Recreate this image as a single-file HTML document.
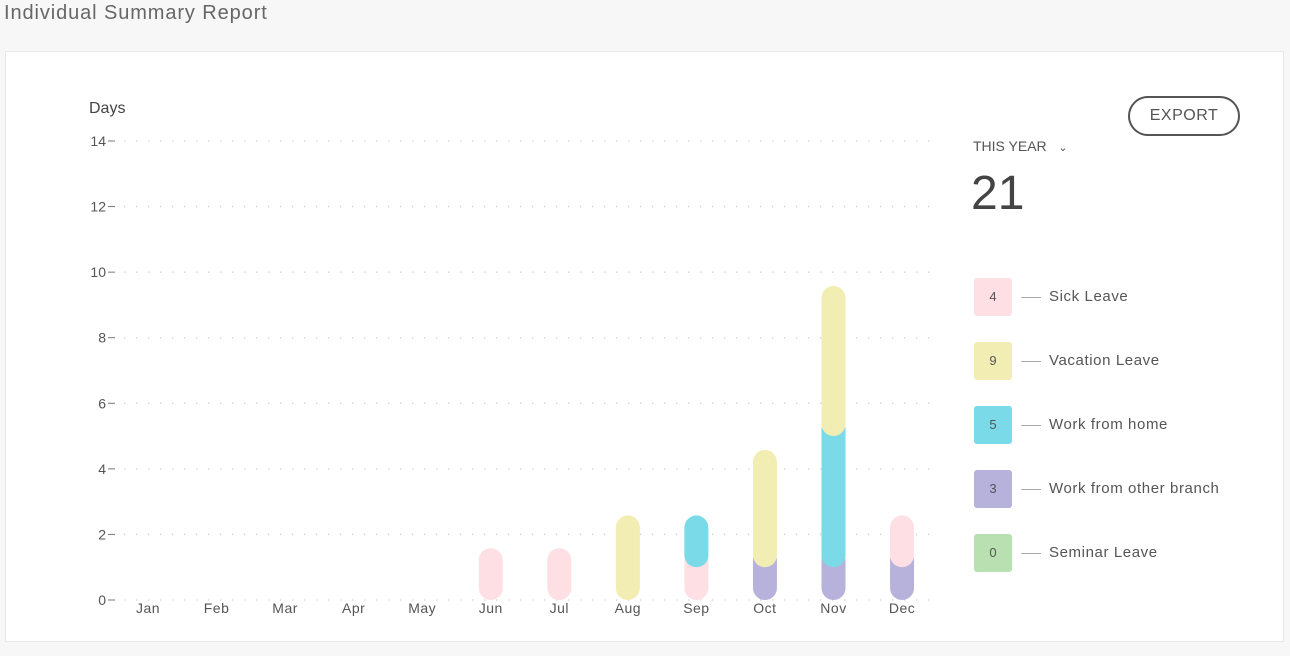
<!DOCTYPE html>
<html><head><meta charset="utf-8"><style>
body{margin:0;width:1290px;height:656px;background:#f7f7f7;font-family:"Liberation Sans",sans-serif;position:relative;overflow:hidden;color:#555}
.title{position:absolute;left:4px;top:2px;font-size:20px;color:#666;letter-spacing:0.9px}
.card{position:absolute;left:5px;top:51px;width:1277px;height:589px;background:#fff;border:1px solid #e8e8e8}
.export{position:absolute;left:1128px;top:96px;width:108px;height:36px;border:2px solid #555;border-radius:20px;font-size:16px;color:#555;text-align:center;line-height:36px;box-sizing:content-box;letter-spacing:0.5px}
.period{position:absolute;left:973px;top:138px;font-size:14px;color:#555}
.total{position:absolute;left:971px;top:166px;font-size:48px;color:#444}
.leg{position:absolute;left:974px;height:38px}
.leg .box{position:absolute;left:0;top:0;width:38px;height:38px;border-radius:3px;text-align:center;line-height:38px;font-size:13px;color:#555}
.leg .ln{position:absolute;left:47px;top:19px;width:20px;height:1px;background:#aaa}
.leg .lb{position:absolute;left:75px;top:10px;font-size:15px;color:#555;white-space:nowrap;letter-spacing:0.6px}
</style></head><body>
<div class="title">Individual Summary Report</div>
<div class="card"></div>
<div class="export">EXPORT</div>
<div class="period">THIS YEAR &nbsp;&nbsp;<span style="font-size:11px">&#8964;</span></div>
<div class="total">21</div>
<div class="leg" style="top:278px"><div class="box" style="background:#fddfe4">4</div><div class="ln"></div><div class="lb">Sick Leave</div></div>
<div class="leg" style="top:342px"><div class="box" style="background:#f2eeb3">9</div><div class="ln"></div><div class="lb">Vacation Leave</div></div>
<div class="leg" style="top:406px"><div class="box" style="background:#7adae7">5</div><div class="ln"></div><div class="lb">Work from home</div></div>
<div class="leg" style="top:470px"><div class="box" style="background:#b6b2dc">3</div><div class="ln"></div><div class="lb">Work from other branch</div></div>
<div class="leg" style="top:534px"><div class="box" style="background:#b9e0b0">0</div><div class="ln"></div><div class="lb">Seminar Leave</div></div>
<svg id="chart" width="1290" height="656" style="position:absolute;left:0;top:0"></svg>
<script>
const months=["Jan","Feb","Mar","Apr","May","Jun","Jul","Aug","Sep","Oct","Nov","Dec"];
const other=[0,0,0,0,0,0,0,0,0,1,1,1];
const sick=[0,0,0,0,0,1,1,0,1,0,0,1];
const vacation=[0,0,0,0,0,0,0,2,0,3,4,0];
const wfh=[0,0,0,0,0,0,0,0,1,0,4,0];
const seminar=[0,0,0,0,0,0,0,0,0,0,0,0];
const yTicks=[0,2,4,6,8,10,12,14];
const NS="http://www.w3.org/2000/svg";
const svg=document.getElementById('chart');
const y=v=>600-v*(459/14);
const x=i=>148+i*68.55;
function mk(t,a){const e=document.createElementNS(NS,t);for(const k in a)e.setAttribute(k,a[k]);svg.appendChild(e);return e;}
const yl=mk('text',{x:89,y:113,'font-size':16,fill:'#444','font-family':'Liberation Sans'});yl.textContent='Days';


yTicks.forEach(v=>{
  const g=mk('line',{x1:124,x2:935,y1:y(v),y2:y(v),stroke:'#cfcfcf','stroke-width':1.3,'stroke-dasharray':'1.3 10.7'});
  
  
  const t=mk('text',{x:106,y:y(v)+5,'font-size':14,fill:'#555','text-anchor':'end','font-family':'Liberation Sans'});t.textContent=v;
  
  
  mk('line',{x1:108,x2:115,y1:y(v),y2:y(v),stroke:'#777','stroke-width':1});
});
months.forEach((m,i)=>{
  const t=mk('text',{x:x(i),y:613,'font-size':14,fill:'#555','text-anchor':'middle','font-family':'Liberation Sans','letter-spacing':'0.5'});t.textContent=m;
  
  
});
const series=[[other,'#b6b2dc','other'],[sick,'#fddfe4','sick'],[wfh,'#7adae7','wfh'],[vacation,'#f2eeb3','vacation'],[seminar,'#b9e0b0','seminar']];
months.forEach((m,i)=>{
  let base=0;
  series.forEach(([arr,c,n])=>{
    const v=arr[i];if(!v)return;
    const b=y(base),top=y(base+v)-19;
    const r=mk('rect',{x:x(i)-12,y:top,width:24,height:b-top,rx:12,ry:12,fill:c});
    
    
    base+=v;
  });
});
</script>
</body></html>
